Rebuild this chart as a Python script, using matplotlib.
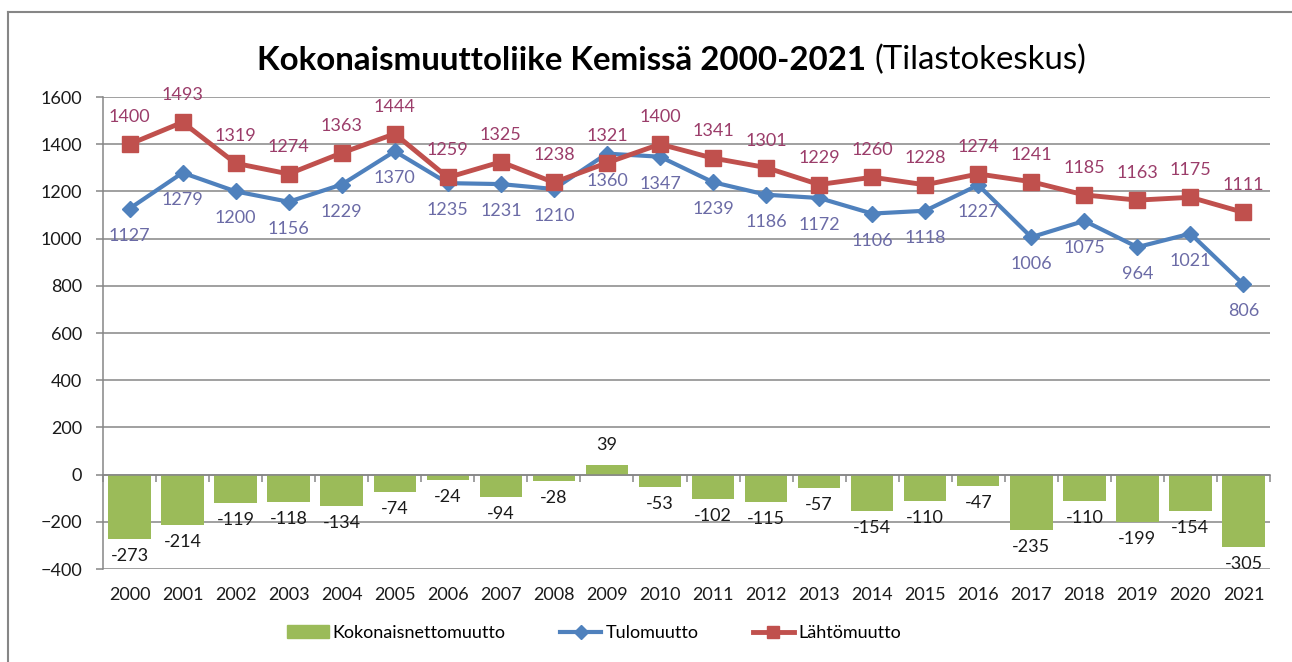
import numpy as np
import matplotlib.pyplot as plt
from matplotlib.lines import Line2D
from matplotlib.patches import Patch

years = [str(y) for y in range(2000, 2022)]
tulo = [1127, 1279, 1200, 1156, 1229, 1370, 1235, 1231, 1210, 1360, 1347,
        1239, 1186, 1172, 1106, 1118, 1227, 1006, 1075, 964, 1021, 806]
lahto = [1400, 1493, 1319, 1274, 1363, 1444, 1259, 1325, 1238, 1321, 1400,
         1341, 1301, 1229, 1260, 1228, 1274, 1241, 1185, 1163, 1175, 1111]
netto = [-273, -214, -119, -118, -134, -74, -24, -94, -28, 39, -53,
         -102, -115, -57, -154, -110, -47, -235, -110, -199, -154, -305]

plt.rcParams['font.family'] = ['Lato', 'DejaVu Sans']

green = '#9BBB59'
blue = '#4F81BD'
red = '#C0504D'
grid = '#868686'

fig = plt.figure(figsize=(12.92, 6.62), dpi=100)
ax = fig.add_axes([103/1292, 1 - 569/662, (1270 - 103)/1292, (569 - 97)/662])

x = np.arange(len(years))
ax.bar(x, netto, width=0.8, color=green, zorder=2)
ax.plot(x, tulo, color=blue, lw=3, marker='D', ms=8, zorder=3)
ax.plot(x, lahto, color=red, lw=3.5, marker='s', ms=11, zorder=4)

for i in range(len(years)):
    ax.annotate(str(lahto[i]), (x[i], lahto[i]), xytext=(0, 27), textcoords='offset pixels',
                ha='center', va='center', fontsize=13, color='#9B3D6A', zorder=5)
    ax.annotate(str(tulo[i]), (x[i], tulo[i]), xytext=(0, -27), textcoords='offset pixels',
                ha='center', va='center', fontsize=13, color='#6B6BA6', zorder=5)
    off = 20 if netto[i] > 0 else -17
    ax.annotate(str(netto[i]), (x[i], netto[i]), xytext=(0, off), textcoords='offset pixels',
                ha='center', va='center', fontsize=13, color='#1a1a1a', zorder=5)

ax.set_xlim(-0.5, len(years) - 0.5)
ax.set_ylim(-400, 1600)
ax.set_yticks(range(-400, 1601, 200))
ax.yaxis.grid(True, color=grid, lw=1.1)
ax.set_axisbelow(True)
ax.tick_params(axis='y', length=5, color=grid, width=1.1, labelsize=13, pad=10, labelcolor='#1a1a1a')

for s in ['top', 'right']:
    ax.spines[s].set_visible(False)
ax.spines['left'].set_color(grid)
ax.spines['left'].set_linewidth(1.1)
ax.spines['bottom'].set_position(('data', 0))
ax.spines['bottom'].set_color(grid)
ax.spines['bottom'].set_linewidth(1.1)
ax.set_xticks(x)
ax.set_xticklabels([])
ax.tick_params(axis='x', which='major', length=0)
ax.set_xticks(np.arange(-0.5, len(years)), minor=True)
ax.tick_params(axis='x', which='minor', length=5, color=grid, width=1.1, direction='out')

sec = ax.secondary_xaxis(0)
sec.set_xticks(x)
sec.set_xticklabels(years)
sec.tick_params(length=0, labelsize=13, pad=13, labelcolor='#1a1a1a')
sec.spines['bottom'].set_visible(False)

# title in two parts
fig.text(866/1292, 1 - 60/662, 'Kokonaismuuttoliike Kemissä 2000-2021', ha='right', va='center',
         fontsize=23.8, fontweight='bold')
fig.text(874/1292, 1 - 60/662, '(Tilastokeskus)', ha='left', va='center', fontsize=23.8)

handles = [Patch(color=green),
           Line2D([], [], color=blue, lw=3, marker='D', ms=7),
           Line2D([], [], color=red, lw=3.5, marker='s', ms=9)]
fig.legend(handles, ['Kokonaisnettomuutto', 'Tulomuutto', 'Lähtömuutto'], loc='center',
           bbox_to_anchor=(594/1292, 1 - 633/662), ncol=3, frameon=False, fontsize=13,
           handlelength=2.3, handletextpad=0.22, columnspacing=3.0)

# outer chart border
fig.add_artist(Line2D([8/1292, 8/1292], [0, 1 - 12/662], color=grid, lw=1.5))
fig.add_artist(Line2D([8/1292, 1], [1 - 12/662, 1 - 12/662], color=grid, lw=1.5))

fig.savefig('out.png', dpi=100)
